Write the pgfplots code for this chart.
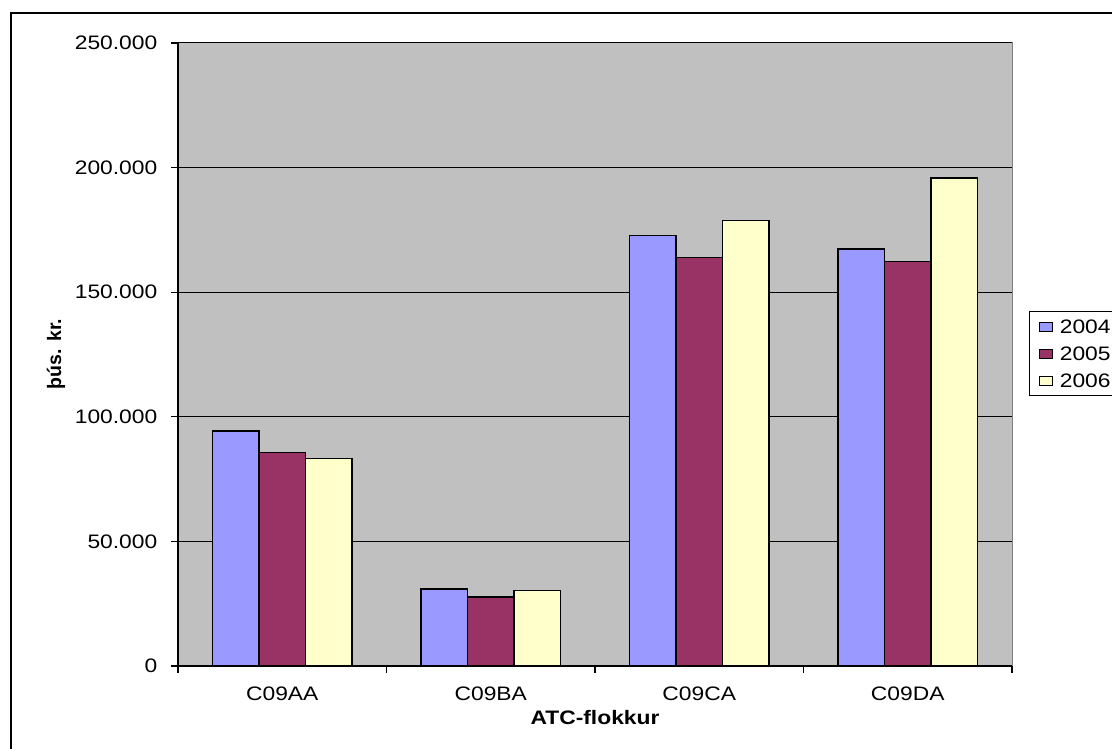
\documentclass[border=0pt]{standalone}
\usepackage{pgfplots}
\pgfplotsset{compat=1.18}
\usepackage{fontspec}
\setmainfont{Liberation Sans}[FakeStretch=1.17]
\newfontfamily\ylabfont{Liberation Sans}
\definecolor{c2004}{HTML}{9999FF}
\definecolor{c2005}{HTML}{993366}
\definecolor{c2006}{HTML}{FFFFCC}
\definecolor{plotbg}{HTML}{C0C0C0}
\definecolor{frameg}{HTML}{808080}
\begin{document}
\fontsize{19.5bp}{23bp}\selectfont
\begin{tikzpicture}
\path[use as bounding box] (0,0) rectangle (1112bp,749bp);
\clip (0,0) rectangle (1112bp,749bp);
\draw[line width=1.3bp] (11bp,-30bp) rectangle (1140bp,736bp);
\begin{axis}[
  at={(178bp,83bp)}, anchor=south west,
  width=834bp, height=623bp, scale only axis,
  xmin=-0.5, xmax=3.5, ymin=0, ymax=250000,
  axis background/.style={fill=plotbg, draw=frameg, line width=1bp},
  axis x line*=bottom, axis y line*=left,
  axis line style={black, line width=1.3bp},
  ybar=0pt, bar width=0.223,
  ymajorgrids, grid style={black, line width=1bp},
  ytick={0,50000,100000,150000,200000,250000},
  yticklabels={0,50.000,100.000,150.000,200.000,250.000},
  yticklabel style={xshift=-7bp},
  scaled y ticks=false,
  xtick={-0.5,0.5,1.5,2.5,3.5}, xticklabels={,,,,,},
  extra x ticks={0,1,2,3},
  extra x tick labels={C09AA,C09BA,C09CA,C09DA},
  extra x tick style={major tick length=0pt, xticklabel style={yshift=-14bp}},
  tick align=outside, major tick length=7bp,
  tick style={black, line width=1.2bp},
  ticklabel style={font=\fontsize{19.5bp}{23bp}\selectfont},
  legend style={at={(1.0204,0.5698)}, anchor=north west, draw=black, line width=1.2bp,
    fill=white, inner xsep=9bp, inner ysep=8bp, row sep=13.4bp,
    nodes={inner sep=0pt, text height=13.6bp, text depth=0bp, font=\fontsize{19.5bp}{23bp}\selectfont},
    /tikz/every odd column/.append style={column sep=7bp}},
  legend cell align=left,
  legend image code/.code={\draw[#1, draw=black, line width=1.2bp] (0bp,-4.7bp) rectangle (13bp,4.3bp);},
  every axis plot/.append style={draw=black, line width=1.3bp},
]
\addplot[fill=c2004] coordinates {(0,94250) (1,30850) (2,172700) (3,167340)};
\addplot[fill=c2005] coordinates {(0,85680) (1,27630) (2,164000) (3,162400)};
\addplot[fill=c2006] coordinates {(0,83390) (1,30290) (2,178900) (3,195800)};
\legend{2004,2005,2006}
\end{axis}
\node[anchor=base] at (595bp,25bp) {\bfseries ATC-flokkur};
\node[anchor=base, rotate=90] at (61bp,395bp) {\ylabfont\bfseries þús. kr.};
\end{tikzpicture}
\end{document}
